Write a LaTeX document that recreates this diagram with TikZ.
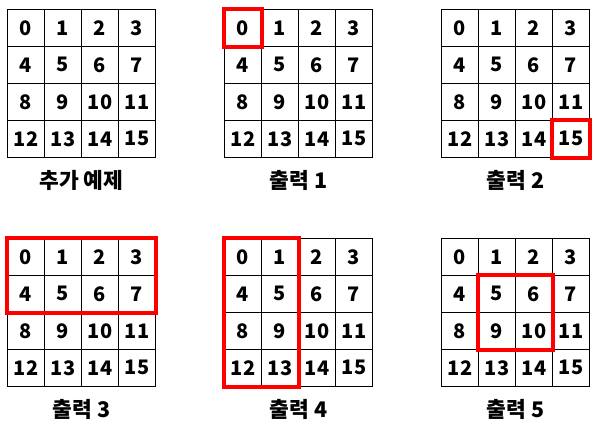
\documentclass[tikz,border=0pt]{standalone}
\usepackage{fontspec}
\newfontfamily\krfont{Noto Sans CJK KR}

\begin{document}
\begin{tikzpicture}[x=1pt,y=-1pt,
  cell/.style={draw,line width=1.1pt,minimum size=37pt,inner sep=0pt,
    font=\krfont\bfseries\fontsize{20}{24}\selectfont},
  pick/.style={draw=red,line width=4.4pt},
  caption/.style={font=\krfont\bfseries\fontsize{21.5}{26}\selectfont}]

  \useasboundingbox (0,0) rectangle (600,426);

  % six grids: name/left/top
  \foreach \g/\gx/\gy in {a/7.5/9.3,b/224.5/9.3,c/441.5/9.3,
                          d/7.5/238.3,e/224.5/238.3,f/441.5/238.3}
    \foreach \n in {0,...,15}{
      \pgfmathtruncatemacro\col{mod(\n,4)}
      \pgfmathtruncatemacro\row{div(\n,4)}
      \node[cell] (\g\n) at (\gx+18.5+37*\col,\gy+18.5+37*\row) {\n};
    }

  \node[caption] (ta) at (81.5,180) {추가 예제};
  \node[caption] (tb) at (298.5,180) {출력 1};
  \node[caption] (tc) at (515.5,180) {출력 2};
  \node[caption] (td) at (81.5,409) {출력 3};
  \node[caption] (te) at (298.5,409) {출력 4};
  \node[caption] (tf) at (515.5,409) {출력 5};

  \draw[pick] (b0.north west) rectangle (b0.south east);
  \draw[pick] (c15.north west) rectangle (c15.south east);
  \draw[pick] (d0.north west) rectangle (d7.south east);
  \draw[pick] (e0.north west) rectangle (e13.south east);
  \draw[pick] (f5.north west) rectangle (f10.south east);

\end{tikzpicture}
\end{document}
